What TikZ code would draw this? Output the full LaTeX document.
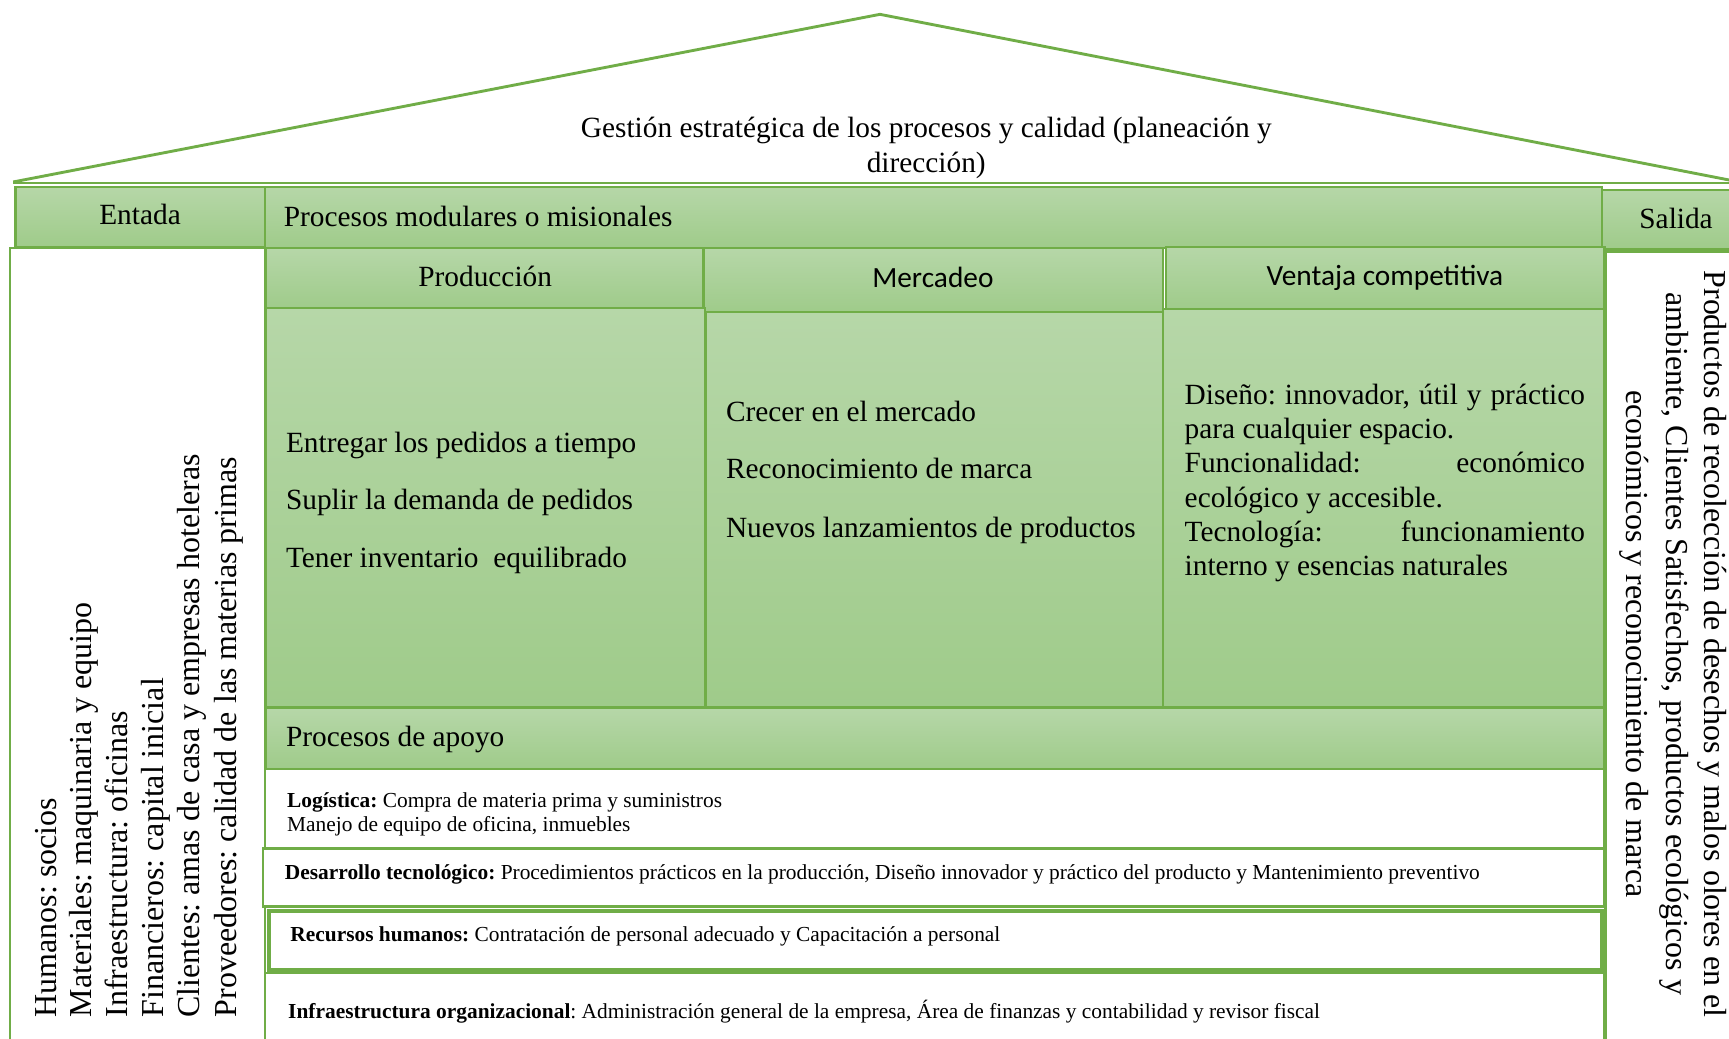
\documentclass[tikz,border=0pt]{standalone}
\usepackage{fontspec}
\setmainfont{Liberation Serif}
\newfontfamily\calibrifont{Carlito}
\definecolor{gline}{HTML}{70AD47}
\definecolor{gtop}{HTML}{B6D7A8}
\definecolor{gbot}{HTML}{9FCB8A}
\frenchspacing
\begin{document}
\frenchspacing
\begin{tikzpicture}[x=0.5pt,y=-0.5pt,
  gcell/.style={draw=gline,line width=1pt,top color=gtop,bottom color=gbot},
  wcell/.style={draw=gline,line width=1pt,fill=white},
  txt/.style={inner sep=0pt,font=\fontsize{13.3}{15.5}\selectfont},
  sanstxt/.style={inner sep=0pt,font=\calibrifont\fontsize{13.3}{15.5}\selectfont},
  sml/.style={inner sep=0pt,font=\fontsize{9.7}{11}\selectfont},
  rot/.style={inner sep=0pt,font=\fontsize{14.5}{16.5}\selectfont},
  roof/.style={draw=gline,line width=1.3pt,line join=round}
]
\useasboundingbox (0,0) rectangle (1568,942);
\fill[white] (0,0) rectangle (1568,942);
\begin{scope}
\clip (0,0) rectangle (1568,942);
% roof
\draw[roof] (12,165) -- (798,13) -- (1572,164);
\draw[roof] (12,166) -- (1572,166);
% side white boxes
\draw[wcell] (9,225) rectangle (240,960);
\draw[wcell] (1456,228) rectangle (1580,960);
% top band
\draw[gcell] (14,169.5) rectangle (240,224);
\draw[gcell] (240,169.5) rectangle (1453,225);
\draw[gcell] (1453,172) rectangle (1580,226);
% column headers
\draw[gcell] (241,225) rectangle (638,279.5);
\draw[gcell] (638,225) rectangle (1055,283);
\draw[gcell] (1057.5,223.7) rectangle (1455,280.5);
% column bodies
\draw[gcell] (241,279.5) rectangle (639,641);
\draw[gcell] (640.5,283) rectangle (1055,641);
\draw[gcell] (1055,280.5) rectangle (1455,641);
% support processes
\draw[gcell] (241,642) rectangle (1455,697.5);
\draw[wcell] (240.5,697.5) rectangle (1455,769);
\draw[wcell] (238.5,769.5) rectangle (1455,822);
\draw[wcell,line width=2pt] (244,826) rectangle (1453,880);
\draw[wcell] (240.5,882.5) rectangle (1455,960);
\end{scope}
% roof text
\node[txt,anchor=base] (g1) at (840,125) {Gestión estratégica de los procesos y calidad (planeación y};
\node[txt,anchor=base] (g2) at (840,156) {dirección)};
% band texts
\node[txt,anchor=base] (entada) at (127,204) {Entada};
\node[txt,anchor=base west] (pm) at (257,205) {Procesos modulares o misionales};
\node[txt,anchor=base] (salida) at (1520,207) {Salida};
% headers
\node[txt,anchor=base] (prod) at (440,260) {Producción};
\node[sanstxt,anchor=base] (merc) at (846,261) {Mercadeo};
\node[sanstxt,anchor=base] (vent) at (1256,259) {Ventaja competitiva};
% production
\node[txt,anchor=base west] (p1) at (259,410) {Entregar los pedidos a tiempo};
\node[txt,anchor=base west] (p2) at (259,462) {Suplir la demanda de pedidos};
\node[txt,anchor=base west] (p3) at (259,515) {Tener inventario~ equilibrado};
% mercadeo
\node[txt,anchor=base west] (m1) at (658,382) {Crecer en el mercado};
\node[txt,anchor=base west] (m2) at (658,434) {Reconocimiento de marca};
\node[txt,anchor=base west] (m3) at (658,487) {Nuevos lanzamientos de productos};
% ventaja
\node[txt,anchor=north west,text width=181.5pt,align=justify] (vbody) at (1074,348)
 {Diseño: innovador, útil y práctico\linebreak para cualquier espacio.\par
  Funcionalidad: económico\linebreak ecológico y accesible.\par
  Tecnología: funcionamiento\linebreak interno y esencias naturales\par};
% apoyo
\node[txt,anchor=base west] (apoyo) at (259,677) {Procesos de apoyo};
\node[sml,anchor=base west] (log1) at (260,732) {\textbf{Logística:} Compra de materia prima y suministros};
\node[sml,anchor=base west] (log2) at (260,754) {Manejo de equipo de oficina, inmuebles};
\node[sml,anchor=base west] (dt) at (258,798) {\textbf{Desarrollo tecnológico:} Procedimientos prácticos en la producción, Diseño innovador y práctico del producto y Mantenimiento preventivo};
\node[sml,anchor=base west] (rh) at (263,854) {\textbf{Recursos humanos:} Contratación de personal adecuado y Capacitación a personal};
\node[sml,anchor=base west] (io) at (261,924) {\textbf{Infraestructura organizacional}: Administración general de la empresa, Área de finanzas y contabilidad y revisor fiscal};
% entrada (rotated)
\node[rot,anchor=base west,rotate=90] (e1) at (51.5,923) {Humanos: socios};
\node[rot,anchor=base west,rotate=90] (e2) at (83,923) {Materiales: maquinaria y equipo};
\node[rot,anchor=base west,rotate=90] (e3) at (115.5,923) {Infraestructura: oficinas};
\node[rot,anchor=base west,rotate=90] (e4) at (148,923) {Financieros: capital inicial};
\node[rot,anchor=base west,rotate=90] (e5) at (181,923) {Clientes: amas de casa y empresas hoteleras};
\node[rot,anchor=base west,rotate=90] (e6) at (214.5,923) {Proveedores: calidad de las materias primas};
% salida (rotated)
\node[rot,anchor=base,rotate=-90] (s1) at (1546,584) {Productos de recolección de desechos y malos olores en el};
\node[rot,anchor=base,rotate=-90] (s2) at (1511,584) {ambiente, Clientes Satisfechos, productos ecológicos y};
\node[rot,anchor=base,rotate=-90] (s3) at (1475,584) {económicos y reconocimiento de marca};
\end{tikzpicture}
\end{document}
